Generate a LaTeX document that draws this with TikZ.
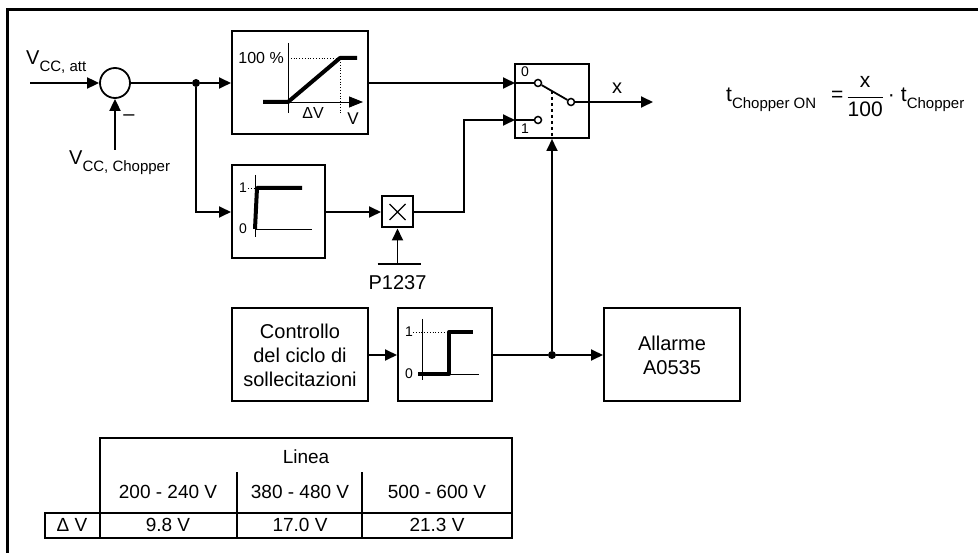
\documentclass[tikz,border=0pt]{standalone}
\usepackage{fontspec}
\setmainfont{Liberation Sans}
\usetikzlibrary{arrows.meta,positioning,calc}
\definecolor{ink}{HTML}{000000}
\newcommand{\lowsub}[1]{\raisebox{-7pt}{\fontsize{15}{15}\selectfont #1}}
\tikzset{
  blk/.style={draw=ink,line width=2pt,inner sep=0pt,align=center,
    font=\fontsize{20}{24}\selectfont},
  sumnode/.style={circle,draw=ink,line width=1.8pt,minimum size=30pt,inner sep=0pt},
  wire/.style={line width=1.8pt,draw=ink},
  arrow/.style={wire,-{Triangle[length=12pt,width=11pt]}},
  junction/.style={circle,fill=ink,inner sep=0pt,minimum size=8pt},
  contact/.style={circle,draw=ink,fill=white,line width=1.5pt,inner sep=0pt,minimum size=7pt},
  graphline/.style={line width=4pt,draw=ink,line join=round},
  graphaxis/.style={line width=.8pt,draw=ink},
  guide/.style={line width=.8pt,draw=ink,dotted},
  lbl/.style={font=\fontsize{20}{24}\selectfont,inner sep=0pt,text=ink},
  ticklbl/.style={font=\fontsize{14}{14}\selectfont,inner sep=0pt,text=ink},
  tabcell/.style={font=\fontsize{19}{22}\selectfont,inner sep=0pt,text=ink}
}

\begin{document}
\begin{tikzpicture}[x=1pt,y=-1pt]
\useasboundingbox (0,0) rectangle (978,553);
\draw[line width=3pt,ink] (7,553) -- (7,10) -- (978,10);

% Input stage
\coordinate (vin) at (30,83);
\coordinate (vchop) at (115,150);
\node[sumnode] (sum) at (115,83) {};
\node[lbl,anchor=base west] (vattlbl) at (26,65) {V\lowsub{CC, att}};
\node[lbl,anchor=base west] (vchoplbl) at (69,165) {V\lowsub{CC, Chopper}};
\node[lbl] (minus) at (129,118) {–};
\node[junction] (j1) at (196,83) {};

\draw[arrow] (vin) -- (sum.west);
\draw[arrow] (vchop) -- (sum.south);
\draw[wire] (sum.east) -- (j1);

% Ramp block
\node[blk,minimum width=136pt,minimum height=103pt] (ramp) at (300,83) {};
\draw[graphaxis] (288,43) -- (288,113);
\draw[graphaxis,-{Triangle[length=14pt,width=11pt]}] (263,102) -- (363,102);
\draw[guide] (288,58) -- (340,58) -- (340,115);
\draw[graphline] (263,102) -- (288,102) -- (340,58) -- (357,58);
\node[ticklbl,font=\fontsize{16}{16}\selectfont,anchor=east] (pct) at (284,58) {100 \%};
\node[ticklbl,font=\fontsize{16}{16}\selectfont] (dvlbl) at (313,113) {ΔV};
\node[ticklbl,font=\fontsize{17}{17}\selectfont] (vlbl) at (353,119) {V};
\draw[arrow] (j1) -- (ramp.west);

% Switch
\node[blk,minimum width=74pt,minimum height=74pt] (sw) at (552,101) {};
\coordinate (in0) at (515,83);
\coordinate (in1) at (515,120);
\coordinate (xout) at (653,102);
\node[contact] (c0) at (538,83) {};
\node[contact] (c1) at (538,120) {};
\node[contact] (cout) at (571,102) {};
\node[ticklbl] (zero) at (525,72) {0};
\node[ticklbl] (one) at (525,129) {1};
\draw[wire] (in0) -- (c0);
\draw[wire] (in1) -- (c1);
\draw[wire] (c0) -- (cout);
\draw[wire,line width=1.2pt,dashed] (552,91) -- (sw.south);
\draw[arrow] (cout) -- (xout);
\node[lbl] (xlbl) at (617,88) {x};
\draw[arrow] (ramp.east) -- (in0);

\node[anchor=base west,inner sep=0pt,font=\fontsize{21}{25}\selectfont] (formula) at (726,102)
  {t\lowsub{Chopper ON}\hspace{15pt}=\hspace{3pt}$\displaystyle\frac{\hbox{x}}{\hbox{100}}$\hspace{4pt}·\hspace{6pt}t\lowsub{Chopper}};

% Step block and multiplier
\node[blk,minimum width=93pt,minimum height=93pt] (step1) at (278.5,212) {};
\draw[graphaxis] (255,175) -- (255,237);
\draw[graphaxis] (255,229) -- (312,229);
\draw[guide] (248,188) -- (255,188);
\draw[graphline] (255,229) -- (257,188) -- (302,188);
\node[ticklbl] (s1one) at (243,188) {1};
\node[ticklbl] (s1zero) at (243,229) {0};

\node[blk,minimum width=31pt,minimum height=31pt] (mult) at (397.5,212) {};
\draw[line width=1.2pt] ($(mult.center)+(-8,-8)$) -- ($(mult.center)+(8,8)$)
  ($(mult.center)+(-8,8)$) -- ($(mult.center)+(8,-8)$);
\coordinate (pin) at (397.5,264);
\draw[wire] ($(pin)+(-20,0)$) -- ($(pin)+(23,0)$);
\node[lbl,below=11pt of pin] (plbl) {P1237};

\draw[arrow] (j1) |- (step1.west);
\draw[arrow] (step1.east) -- (mult.west);
\draw[arrow] (pin) -- (mult.south);
\draw[arrow] (mult.east) -- ++(50,0) |- (in1);

% Bottom row
\node[blk,minimum width=136pt,minimum height=93pt] (ctrl) at (300,355)
  {Controllo\\del ciclo di\\sollecitazioni};
\node[blk,minimum width=94pt,minimum height=93pt] (step2) at (445,355) {};
\draw[graphaxis] (422,319) -- (422,380);
\draw[graphaxis] (422,374) -- (479,374);
\draw[guide] (413,332) -- (449,332);
\draw[graphline] (418,374) -- (449,374) -- (449,332) -- (473,332);
\node[ticklbl] (s2one) at (409,332) {1};
\node[ticklbl] (s2zero) at (409,374) {0};
\node[blk,minimum width=136pt,minimum height=93pt] (alarm) at (672,355)
  {Allarme\\A0535};
\node[junction] (j2) at (552,355) {};

\draw[arrow] (ctrl) -- (step2);
\draw[wire] (step2) -- (j2);
\draw[arrow] (j2) -- (alarm);
\draw[arrow] (j2) -- (sw.south);

% Table
\draw[line width=1.3pt] (100,438) rectangle (512,538);
\draw[line width=1.3pt] (45,513) rectangle (100,538);
\draw[line width=1.3pt] (100,513) -- (512,513);
\draw[line width=1.3pt] (237,472) -- (237,538) (362,472) -- (362,538);
\node[tabcell] (linea) at (306,457) {Linea};
\node[tabcell] (h1) at (168,492) {200 - 240 V};
\node[tabcell] (h2) at (300,492) {380 - 480 V};
\node[tabcell] (h3) at (437,492) {500 - 600 V};
\node[tabcell] (dv) at (72,525) {Δ V};
\node[tabcell] (v1) at (168,525) {9.8 V};
\node[tabcell] (v2) at (300,525) {17.0 V};
\node[tabcell] (v3) at (437,525) {21.3 V};

\end{tikzpicture}
\end{document}
